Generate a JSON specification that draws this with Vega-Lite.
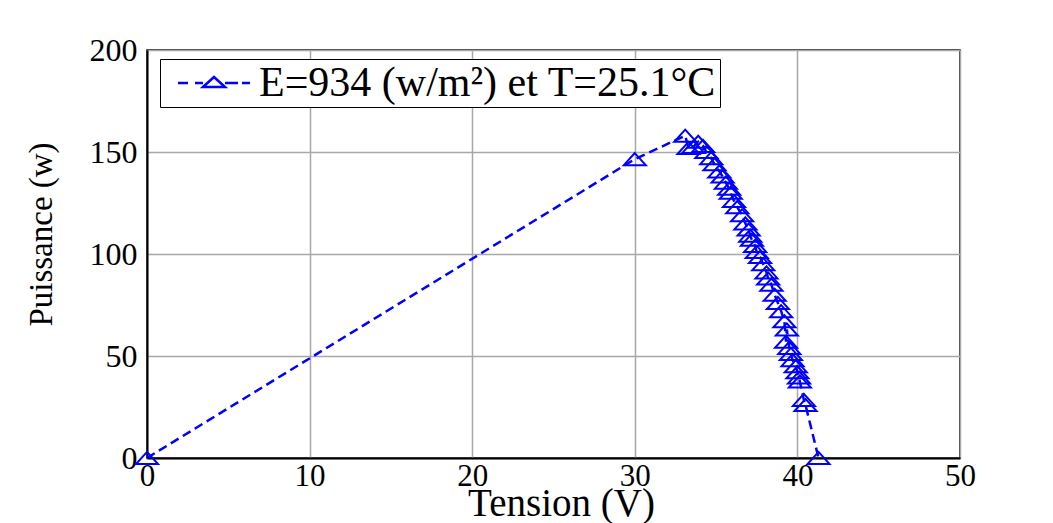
{
  "$schema": "https://vega.github.io/schema/vega-lite/v6.json",
  "width": 813,
  "height": 408,
  "autosize": {"type": "none"},
  "padding": {"left": 147, "top": 50, "right": 93, "bottom": 65},
  "background": "white",
  "config": {
    "view": {"stroke": "black", "strokeWidth": 1.5},
    "font": "Liberation Serif"
  },
  "data": {
    "values": [
      {"tension": 0, "puissance": 0},
      {"tension": 30, "puissance": 146.5},
      {"tension": 33.1, "puissance": 158},
      {"tension": 33.3, "puissance": 152},
      {"tension": 33.6, "puissance": 152.5},
      {"tension": 33.9, "puissance": 155},
      {"tension": 34.2, "puissance": 153},
      {"tension": 34.4, "puissance": 150},
      {"tension": 34.7, "puissance": 147},
      {"tension": 34.9, "puissance": 144},
      {"tension": 35.2, "puissance": 140.5},
      {"tension": 35.4, "puissance": 138},
      {"tension": 35.6, "puissance": 135},
      {"tension": 35.8, "puissance": 132},
      {"tension": 35.9, "puissance": 130},
      {"tension": 36.1, "puissance": 126},
      {"tension": 36.3, "puissance": 123},
      {"tension": 36.6, "puissance": 119},
      {"tension": 36.8, "puissance": 115},
      {"tension": 37.0, "puissance": 112},
      {"tension": 37.1, "puissance": 109},
      {"tension": 37.2, "puissance": 107},
      {"tension": 37.4, "puissance": 104},
      {"tension": 37.5, "puissance": 101},
      {"tension": 37.7, "puissance": 98.5},
      {"tension": 37.9, "puissance": 95},
      {"tension": 38.1, "puissance": 91},
      {"tension": 38.2, "puissance": 88},
      {"tension": 38.4, "puissance": 85},
      {"tension": 38.6, "puissance": 80},
      {"tension": 38.8, "puissance": 76},
      {"tension": 39.0, "puissance": 72},
      {"tension": 39.2, "puissance": 67},
      {"tension": 39.35, "puissance": 63},
      {"tension": 39.3, "puissance": 57},
      {"tension": 39.5, "puissance": 54},
      {"tension": 39.6, "puissance": 51},
      {"tension": 39.7, "puissance": 48},
      {"tension": 39.9, "puissance": 45},
      {"tension": 40.0, "puissance": 42},
      {"tension": 40.1, "puissance": 39.5},
      {"tension": 40.15, "puissance": 37.5},
      {"tension": 40.4, "puissance": 28.5},
      {"tension": 40.5, "puissance": 26},
      {"tension": 41.3, "puissance": 0}
    ]
  },
  "layer": [
    {
      "mark": {"type": "line", "strokeDash": [9, 5], "strokeWidth": 2.5, "clip": false},
      "encoding": {
        "x": {
          "field": "tension",
          "type": "quantitative",
          "scale": {"domain": [0, 50], "nice": false, "zero": false},
          "axis": {
            "values": [0, 10, 20, 30, 40, 50],
            "title": "Tension (V)",
            "titleFont": "Liberation Serif",
            "titleFontSize": 39,
            "titleFontWeight": "normal",
            "titleColor": "black",
            "titleX": 414,
            "titleY": 57,
            "titleBaseline": "alphabetic",
            "labelFont": "Liberation Serif",
            "labelFontSize": 31,
            "labelColor": "black",
            "labelPadding": 3,
            "labelFlush": false,
            "labelOverlap": false,
            "domainColor": "black",
            "domainWidth": 2,
            "ticks": false,
            "gridColor": "#a8a8a8",
            "gridWidth": 1.5,
            "gridOpacity": 1
          }
        },
        "y": {
          "field": "puissance",
          "type": "quantitative",
          "scale": {"domain": [0, 200], "nice": false},
          "axis": {
            "values": [0, 50, 100, 150, 200],
            "title": "Puissance (w)",
            "titleFont": "Liberation Serif",
            "titleFontSize": 33,
            "titleFontWeight": "normal",
            "titleColor": "black",
            "titleX": -106,
            "titleY": 184,
            "titleBaseline": "middle",
            "labelFont": "Liberation Serif",
            "labelFontSize": 32,
            "labelColor": "black",
            "labelPadding": 10,
            "labelFlush": false,
            "labelOverlap": false,
            "domainColor": "black",
            "domainWidth": 2,
            "ticks": false,
            "gridColor": "#a8a8a8",
            "gridWidth": 1.5,
            "gridOpacity": 1
          }
        },
        "color": {
          "datum": "E=934 (w/m²) et T=25.1°C",
          "scale": {"range": ["#0000ff"]},
          "legend": {
            "title": null,
            "orient": "none",
            "legendX": 13,
            "legendY": 9,
            "strokeColor": "black",
            "fillColor": "white",
            "padding": 3,
            "symbolType": "M-0.6,0H0.4M1.1,0H1.9M4.1,0H5.4M5.8,0H6.6M1.9,0.4L3,-0.6L4.1,0.4Z",
            "symbolSize": 400,
            "symbolStrokeWidth": 2.5,
            "symbolStrokeColor": "#0000ff",
            "symbolFillColor": "transparent",
            "symbolDash": [],
            "labelFont": "Liberation Serif",
            "labelFontSize": 42,
            "labelColor": "black",
            "labelOffset": 54,
            "labelLimit": 0
          }
        }
      }
    },
    {
      "mark": {
        "type": "point",
        "shape": "M0,-0.55L1,0.55L-1,0.55Z",
        "filled": false,
        "size": 484,
        "strokeWidth": 2,
        "color": "#0000ff",
        "opacity": 1,
        "clip": false
      },
      "encoding": {
        "x": {"field": "tension", "type": "quantitative"},
        "y": {"field": "puissance", "type": "quantitative"}
      }
    }
  ]
}
